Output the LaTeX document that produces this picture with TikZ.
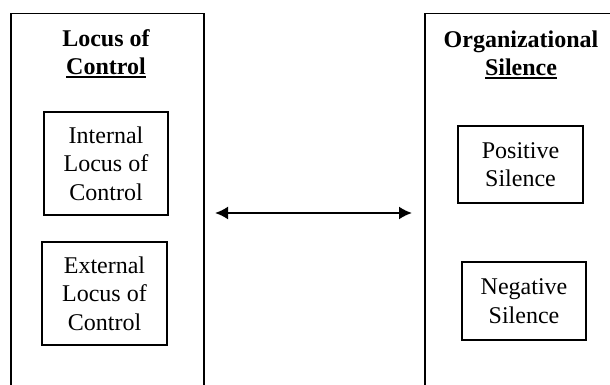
\documentclass[tikz,border=0pt]{standalone}
\usepackage{fontspec}
\setmainfont{Liberation Serif}
\usetikzlibrary{arrows.meta}
\newcommand\myul[1]{\setbox0\hbox{#1}\rlap{\rule[-3.5pt]{\wd0}{1.8pt}}\box0}
\begin{document}
\begin{tikzpicture}[x=1pt,y=-1pt,
  frame/.style={draw,line width=1.5pt,minimum width=#1,inner sep=0pt},
  inbox/.style={draw,line width=1.3pt,align=center,inner sep=0pt,font=\fontsize{24}{28.5}\selectfont},
  title/.style={align=center,font=\fontsize{24}{28}\bfseries\selectfont}]
\useasboundingbox (0,0) rectangle (610,385);
\clip (0,0) rectangle (610,385);
\fill[white] (0,0) rectangle (610,385);
\node[frame=193pt,minimum height=400pt,anchor=north west] (L) at (10,13) {};
\node[frame=200pt,minimum height=400pt,anchor=north west] (R) at (424,13) {};
\node[title] (Lt) at (106,54) {Locus of\\\myul{Control}};
\node[title] (Rt) at (521,55) {Organizational\\\myul{Silence}};
\node[inbox,minimum width=124pt,minimum height=103pt] (I) at (106,163.5) {Internal\\Locus of\\Control};
\node[inbox,minimum width=125pt,minimum height=103pt] (E) at (104.5,293.5) {External\\Locus of\\Control};
\node[inbox,minimum width=125pt,minimum height=77pt] (P) at (520.5,164.5) {Positive\\Silence};
\node[inbox,minimum width=124pt,minimum height=78pt] (N) at (524,301) {Negative\\Silence};
\coordinate (a) at (215,213);
\coordinate (b) at (412,213);
\draw[line width=2pt,{Latex[length=13pt,width=13pt]}-{Latex[length=13pt,width=13pt]}] (a) -- (b);
\end{tikzpicture}
\end{document}
